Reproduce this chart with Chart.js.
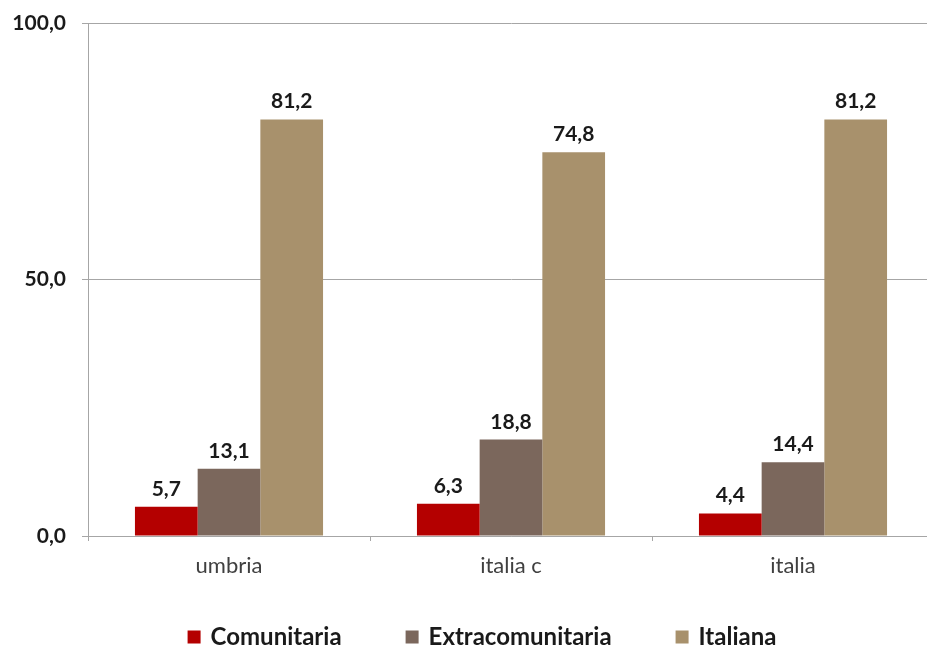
<!DOCTYPE html>
<html>
<head>
<meta charset="utf-8">
<script src="https://cdn.jsdelivr.net/npm/chart.js@4/dist/chart.umd.min.js"></script>
<style>
html, body { margin: 0; padding: 0; background: #fff; overflow: hidden; }
</style>
</head>
<body>
<canvas id="chart" width="934" height="649"></canvas>
<script>
const categories = ['umbria', 'italia c', 'italia'];
const comunitaria = [5.7, 6.3, 4.4];
const extracomunitaria = [13.1, 18.8, 14.4];
const italiana = [81.2, 74.8, 81.2];
const yTicks = [0, 50, 100];

// italian style numbers: 81,2
const fmt = v => Number(v).toFixed(1).replace('.', ',');

// value labels above each bar
const barLabels = {
    id: 'barLabels',
    afterDatasetsDraw(chart) {
        const ctx = chart.ctx;
        ctx.save();
        ctx.font = 'bold 21px Lato';
        ctx.fillStyle = '#1a1a1a';
        ctx.textAlign = 'center';
        ctx.textBaseline = 'alphabetic';
        chart.data.datasets.forEach((ds, i) => {
            chart.getDatasetMeta(i).data.forEach((bar, j) => {
                ctx.fillText(fmt(ds.data[j]), bar.x, bar.y - 11);
            });
        });
        ctx.restore();
    }
};

// legend row at the bottom, wide spacing like the original
const bottomLegend = {
    id: 'bottomLegend',
    afterDraw(chart) {
        const ctx = chart.ctx;
        ctx.save();
        ctx.font = 'bold 24px Lato';
        const box = 13, gap = 10, itemGap = 64;
        const items = chart.data.datasets.map(ds => ({
            text: ds.label,
            color: ds.backgroundColor,
            w: ctx.measureText(ds.label).width
        }));
        const total = items.reduce((s, it) => s + box + gap + it.w, 0) + itemGap * (items.length - 1);
        let x = 482 - total / 2;
        const y = 637;
        ctx.textBaseline = 'middle';
        ctx.textAlign = 'left';
        for (const it of items) {
            ctx.fillStyle = it.color;
            ctx.fillRect(x, y - box / 2, box, box);
            ctx.fillStyle = '#1a1a1a';
            ctx.fillText(it.text, x + box + gap, y);
            x += box + gap + it.w + itemGap;
        }
        ctx.restore();
    }
};

const data = {
    labels: categories,
    datasets: [{
        label: 'Comunitaria',
        backgroundColor: '#b40000',
        data: comunitaria
    }, {
        label: 'Extracomunitaria',
        backgroundColor: '#7b675c',
        data: extracomunitaria
    }, {
        label: 'Italiana',
        backgroundColor: '#a8916c',
        data: italiana
    }]
};

const config = {
    type: 'bar',
    data: data,
    options: {
        responsive: false,
        animation: false,
        layout: { padding: { top: 23, right: 0, bottom: 0, left: 0 } },
        datasets: {
            bar: { categoryPercentage: 0.667, barPercentage: 1 }
        },
        plugins: {
            legend: { display: false },
            tooltip: { enabled: false }
        },
        scales: {
            x: {
                afterFit: s => { s.height = 113; s.paddingLeft = 0; s.paddingRight = 0; },
                ticks: {
                    font: { family: 'Lato', size: 22 },
                    color: '#404040',
                    padding: 12
                },
                grid: {
                    display: true,
                    drawOnChartArea: false,
                    drawTicks: true,
                    tickLength: 5,
                    color: '#a6a6a6',
                    offset: true
                },
                border: { display: true, color: '#a6a6a6' }
            },
            y: {
                min: 0,
                max: 100,
                afterFit: s => { s.width = 88; s.paddingTop = 0; s.paddingBottom = 0; },
                afterBuildTicks: s => { s.ticks = yTicks.map(v => ({ value: v })); },
                ticks: {
                    font: { family: 'Lato', size: 21, weight: 'bold' },
                    color: '#1a1a1a',
                    padding: 16,
                    callback: v => fmt(v)
                },
                grid: { color: '#a6a6a6', lineWidth: 1, tickLength: 6 },
                border: { display: true, color: '#a6a6a6' }
            }
        }
    },
    plugins: [barLabels, bottomLegend]
};

const chart = new Chart(document.getElementById('chart'), config);
</script>
</body>
</html>
